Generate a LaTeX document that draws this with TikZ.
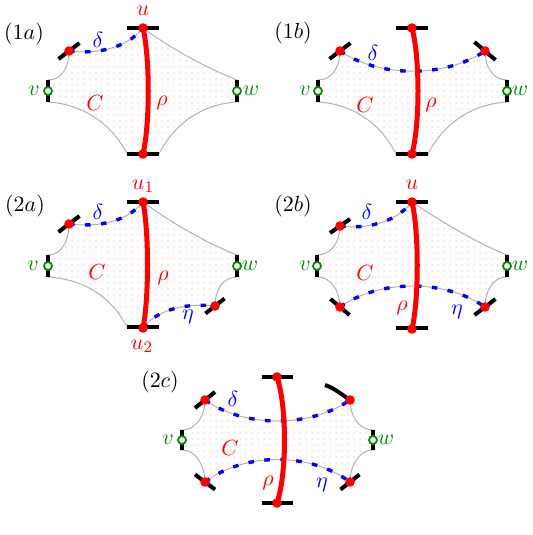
\documentclass[tikz,border=0pt]{standalone}
\usetikzlibrary{patterns}
\begin{document}
\begin{tikzpicture}[x=0.5pt,y=-0.5pt,
  bdry/.style={draw=black!30, line width=0.5pt, pattern=dots, pattern color=red!14},
  rhol/.style={draw=red, line width=2.5pt},
  barl/.style={draw=black, line width=2pt},
  dsh/.style={draw=blue, line width=1.7pt, dash pattern=on 2.8pt off 5.2pt},
  rdot/.style={circle, fill=red, inner sep=0pt, minimum size=4.8pt},
  gdot/.style={circle, draw=green!55!black, fill=white, line width=0.9pt, inner sep=0pt, minimum size=4pt},
  lab/.style={inner sep=0pt, font=\fontsize{11}{13}\selectfont},
  rl/.style={lab, text=red},
  bl/.style={lab, text=blue},
  gl/.style={lab, text=green!55!black},
]
\useasboundingbox (0,0) rectangle (533,535);

%% ---------------- (1a)
\coordinate (a-u) at (143,28);
\coordinate (a-b) at (143,154);
\coordinate (a-l) at (69,51);
\coordinate (a-v) at (48,91);
\coordinate (a-vt) at (48,80);
\coordinate (a-vb) at (48,102);
\coordinate (a-w) at (237,91);
\coordinate (a-wt) at (237,80);
\coordinate (a-wb) at (237,102);
\coordinate (a-bl) at (127,154);
\coordinate (a-br) at (159,154);
\path[bdry] (a-l) .. controls +(25,3) and +(-18,22) .. (a-u)
  .. controls +(30,22) and +(-30,-12) .. (a-wt) -- (a-wb)
  .. controls +(-35,2) and +(15,-30) .. (a-br) -- (a-bl)
  .. controls +(-15,-30) and +(35,2) .. (a-vb) -- (a-vt)
  .. controls +(14,0) and +(0,16) .. (a-l) -- cycle;
\draw[dsh] (a-l) .. controls +(25,3) and +(-18,22) .. (a-u);
\draw[barl] (127,28) -- (159,28);
\draw[barl] (127,154) -- (159,154);
\draw[barl] (58.5,59) -- (79.5,43);
\draw[barl] (48,80) -- (48,102);
\draw[barl] (237,80) -- (237,102);
\draw[rhol] (a-u) .. controls +(7,30) and +(7,-30) .. (a-b);
\node[rdot] (a-udot) at (a-u) {};
\node[rdot] (a-bdot) at (a-b) {};
\node[rdot] (a-ldot) at (a-l) {};
\node[gdot] (a-vdot) at (a-v) {};
\node[gdot] (a-wdot) at (a-w) {};
\node[lab] (a-title) at (24,34) {$(1a)$};
\node[rl] (a-ulab) at (143,11) {$u$};
\node[bl] (a-dlab) at (98,40) {$\delta$};
\node[gl] (a-vlab) at (34,91) {$v$};
\node[gl] (a-wlab) at (251,91) {$w$};
\node[rl] (a-clab) at (95,103) {$C$};
\node[rl] (a-rlab) at (162,103) {$\rho$};

%% ---------------- (1b)
\coordinate (b-u) at (412,28);
\coordinate (b-b) at (412,154);
\coordinate (b-l) at (340,51);
\coordinate (b-r) at (485,51);
\coordinate (b-v) at (318,91);
\coordinate (b-vt) at (318,80);
\coordinate (b-vb) at (318,102);
\coordinate (b-w) at (507,91);
\coordinate (b-wt) at (507,80);
\coordinate (b-wb) at (507,102);
\coordinate (b-bl) at (396,154);
\coordinate (b-br) at (428,154);
\path[bdry] (b-l) .. controls +(40,27) and +(-40,27) .. (b-r)
  .. controls +(0,16) and +(-14,0) .. (b-wt) -- (b-wb)
  .. controls +(-35,2) and +(15,-30) .. (b-br) -- (b-bl)
  .. controls +(-15,-30) and +(35,2) .. (b-vb) -- (b-vt)
  .. controls +(14,0) and +(0,16) .. (b-l) -- cycle;
\draw[dsh] (b-l) .. controls +(40,27) and +(-40,27) .. (b-r);
\draw[barl] (396,28) -- (428,28);
\draw[barl] (396,154) -- (428,154);
\draw[barl] (329.5,59) -- (350.5,43);
\draw[barl] (474.5,42) -- (495.5,60);
\draw[barl] (318,80) -- (318,102);
\draw[barl] (507,80) -- (507,102);
\draw[rhol] (b-u) .. controls +(8,30) and +(8,-30) .. (b-b);
\node[rdot] (b-udot) at (b-u) {};
\node[rdot] (b-bdot) at (b-b) {};
\node[rdot] (b-ldot) at (b-l) {};
\node[rdot] (b-rdot) at (b-r) {};
\node[gdot] (b-vdot) at (b-v) {};
\node[gdot] (b-wdot) at (b-w) {};
\node[lab] (b-title) at (293,33) {$(1b)$};
\node[bl] (b-dlab) at (373,53) {$\delta$};
\node[gl] (b-vlab) at (305,91) {$v$};
\node[gl] (b-wlab) at (520,91) {$w$};
\node[rl] (b-clab) at (365,105) {$C$};
\node[rl] (b-rlab) at (431,105) {$\rho$};

%% ---------------- (2a)
\coordinate (c-u) at (143,202);
\coordinate (c-b) at (143,328);
\coordinate (c-l) at (69,224);
\coordinate (c-r) at (215,306);
\coordinate (c-v) at (48,266);
\coordinate (c-vt) at (48,255);
\coordinate (c-vb) at (48,277);
\coordinate (c-w) at (237,266);
\coordinate (c-wt) at (237,255);
\coordinate (c-wb) at (237,277);
\coordinate (c-bl) at (127,327);
\path[bdry] (c-l) .. controls +(25,3) and +(-18,22) .. (c-u)
  .. controls +(30,22) and +(-30,-12) .. (c-wt) -- (c-wb)
  .. controls +(-14,0) and +(0,-16) .. (c-r)
  .. controls +(-25,-3) and +(15,-20) .. (c-b) -- (c-bl)
  .. controls +(-15,-30) and +(35,2) .. (c-vb) -- (c-vt)
  .. controls +(14,0) and +(0,16) .. (c-l) -- cycle;
\draw[dsh] (c-l) .. controls +(25,3) and +(-18,22) .. (c-u);
\draw[dsh] (c-b) .. controls +(15,-20) and +(-25,-3) .. (c-r);
\draw[barl] (127,202) -- (159,202);
\draw[barl] (127,327) -- (159,327);
\draw[barl] (58.5,232) -- (79.5,216);
\draw[barl] (205.5,313.5) -- (224.5,298.5);
\draw[barl] (48,255) -- (48,277);
\draw[barl] (237,255) -- (237,277);
\draw[rhol] (c-u) .. controls +(6,30) and +(6,-30) .. (c-b);
\node[rdot] (c-udot) at (c-u) {};
\node[rdot] (c-bdot) at (c-b) {};
\node[rdot] (c-ldot) at (c-l) {};
\node[rdot] (c-rdot) at (c-r) {};
\node[gdot] (c-vdot) at (c-v) {};
\node[gdot] (c-wdot) at (c-w) {};
\node[lab] (c-title) at (25,206) {$(2a)$};
\node[rl] (c-u1lab) at (143,186) {$u_1$};
\node[rl] (c-u2lab) at (142,346) {$u_2$};
\node[bl] (c-dlab) at (98,212) {$\delta$};
\node[bl] (c-elab) at (188,317) {$\eta$};
\node[gl] (c-vlab) at (33,266) {$v$};
\node[gl] (c-wlab) at (250,266) {$w$};
\node[rl] (c-clab) at (97,272) {$C$};
\node[rl] (c-rlab) at (163,278) {$\rho$};

%% ---------------- (2b)
\coordinate (d-u) at (412,202);
\coordinate (d-b) at (412,329);
\coordinate (d-l) at (340,226);
\coordinate (d-lb) at (340,307);
\coordinate (d-rb) at (485,307);
\coordinate (d-v) at (317,266);
\coordinate (d-vt) at (317,255);
\coordinate (d-vb) at (317,277);
\coordinate (d-w) at (507,266);
\coordinate (d-wt) at (507,255);
\coordinate (d-wb) at (507,277);
\path[bdry] (d-l) .. controls +(25,3) and +(-18,22) .. (d-u)
  .. controls +(30,20) and +(-30,-12) .. (d-wt) -- (d-wb)
  .. controls +(-14,0) and +(0,-16) .. (d-rb)
  .. controls +(-40,-28) and +(40,-28) .. (d-lb)
  .. controls +(0,-16) and +(14,0) .. (d-vb) -- (d-vt)
  .. controls +(14,0) and +(0,16) .. (d-l) -- cycle;
\draw[dsh] (d-l) .. controls +(25,3) and +(-18,22) .. (d-u);
\draw[dsh] (d-lb) .. controls +(40,-28) and +(-40,-28) .. (d-rb);
\draw[barl] (396,202) -- (428,202);
\draw[barl] (396,328) -- (428,328);
\draw[barl] (330,233) -- (350,219);
\draw[barl] (330.5,299) -- (349.5,315);
\draw[barl] (474.5,315) -- (495.5,299);
\draw[barl] (317,255) -- (317,277);
\draw[barl] (507,255) -- (507,277);
\draw[rhol] (d-u) .. controls +(7,30) and +(7,-30) .. (d-b);
\node[rdot] (d-udot) at (d-u) {};
\node[rdot] (d-bdot) at (d-b) {};
\node[rdot] (d-ldot) at (d-l) {};
\node[rdot] (d-lbdot) at (d-lb) {};
\node[rdot] (d-rbdot) at (d-rb) {};
\node[gdot] (d-vdot) at (d-v) {};
\node[gdot] (d-wdot) at (d-w) {};
\node[lab] (d-title) at (293,206) {$(2b)$};
\node[rl] (d-ulab) at (412,185) {$u$};
\node[bl] (d-dlab) at (367,212) {$\delta$};
\node[bl] (d-elab) at (457,312) {$\eta$};
\node[gl] (d-vlab) at (305,266) {$v$};
\node[gl] (d-wlab) at (520,266) {$w$};
\node[rl] (d-clab) at (365,273) {$C$};
\node[rl] (d-rlab) at (402,308) {$\rho$};

%% ---------------- (2c)
\coordinate (e-u) at (277,377);
\coordinate (e-b) at (277,503);
\coordinate (e-tl) at (205,400);
\coordinate (e-tr) at (350,400);
\coordinate (e-bl) at (205,482);
\coordinate (e-br) at (350,482);
\coordinate (e-v) at (182,440);
\coordinate (e-vt) at (182,430);
\coordinate (e-vb) at (182,450);
\coordinate (e-w) at (373,440);
\coordinate (e-wt) at (373,430);
\coordinate (e-wb) at (373,450);
\coordinate (e-arc) at (325,385);
\path[bdry] (e-tl) .. controls +(40,28) and +(-40,28) .. (e-tr)
  .. controls +(0,16) and +(-14,0) .. (e-wt) -- (e-wb)
  .. controls +(-14,0) and +(0,-16) .. (e-br)
  .. controls +(-40,-30) and +(40,-30) .. (e-bl)
  .. controls +(0,-16) and +(14,0) .. (e-vb) -- (e-vt)
  .. controls +(14,0) and +(0,16) .. (e-tl) -- cycle;
\draw[dsh] (e-tl) .. controls +(40,28) and +(-40,28) .. (e-tr);
\draw[dsh] (e-bl) .. controls +(40,-30) and +(-40,-30) .. (e-br);
\draw[barl] (262,377) -- (293,377);
\draw[barl] (262,503) -- (293,503);
\draw[barl] (195,408) -- (215,392);
\draw[barl] (e-tr) .. controls +(-9,-6) and +(9,3) .. (e-arc);
\draw[barl] (195,474.5) -- (215,489.5);
\draw[barl] (340.5,489.5) -- (359.5,474.5);
\draw[barl] (182,430) -- (182,450);
\draw[barl] (373,430) -- (373,450);
\draw[rhol] (e-u) .. controls +(10,30) and +(10,-30) .. (e-b);
\node[rdot] (e-udot) at (e-u) {};
\node[rdot] (e-bdot) at (e-b) {};
\node[rdot] (e-tldot) at (e-tl) {};
\node[rdot] (e-trdot) at (e-tr) {};
\node[rdot] (e-bldot) at (e-bl) {};
\node[rdot] (e-brdot) at (e-br) {};
\node[gdot] (e-vdot) at (e-v) {};
\node[gdot] (e-wdot) at (e-w) {};
\node[lab] (e-title) at (160,382) {$(2c)$};
\node[bl] (e-dlab) at (233,399) {$\delta$};
\node[bl] (e-elab) at (322,485) {$\eta$};
\node[gl] (e-vlab) at (168,440) {$v$};
\node[gl] (e-wlab) at (386,440) {$w$};
\node[rl] (e-clab) at (230,448) {$C$};
\node[rl] (e-rlab) at (268,483) {$\rho$};
\end{tikzpicture}
\end{document}
